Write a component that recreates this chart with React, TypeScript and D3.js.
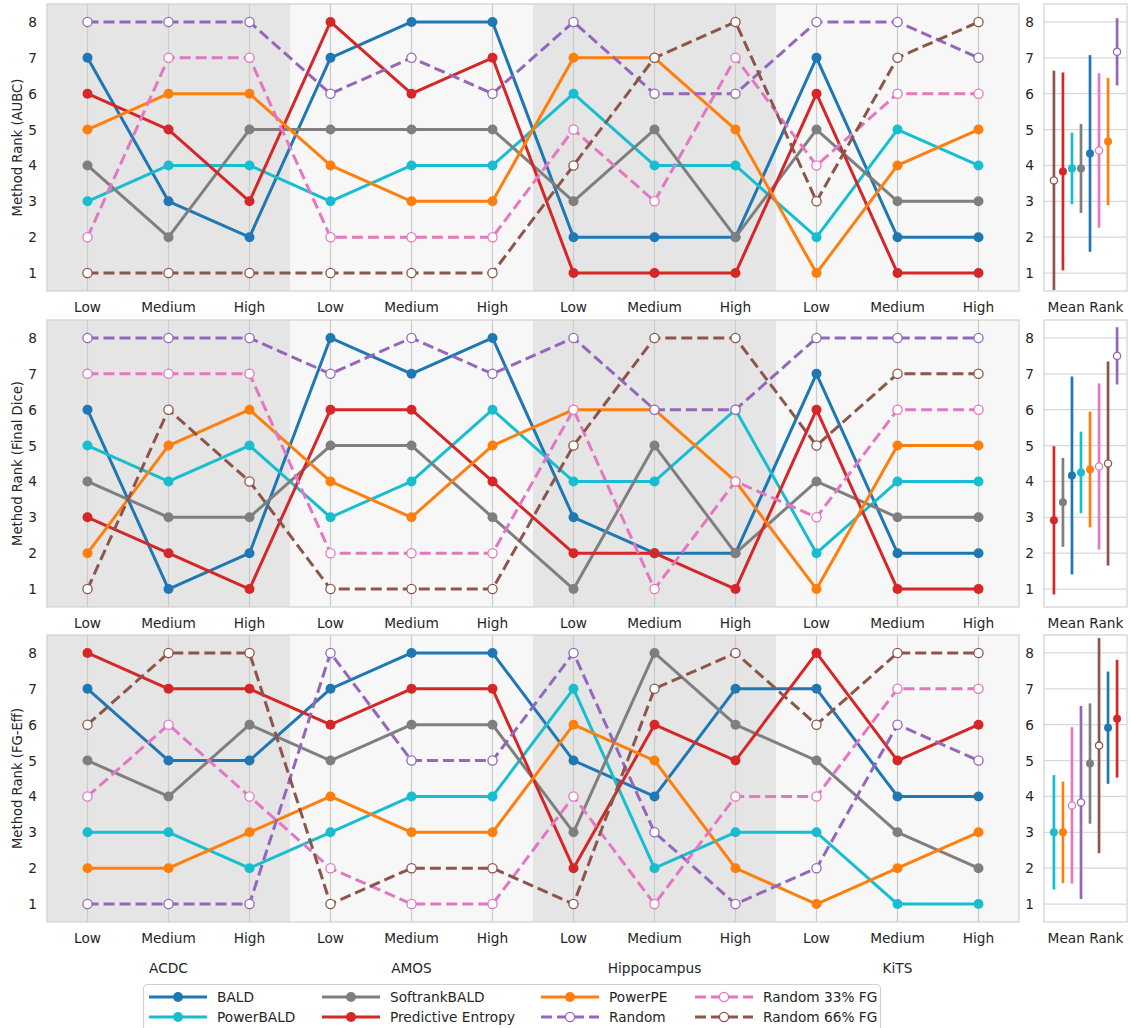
import React, { useEffect, useRef } from 'react';
import * as d3 from 'd3';

const levels = ['Low', 'Medium', 'High'];
const datasets = ['ACDC', 'AMOS', 'Hippocampus', 'KiTS'];
const methods = [
  'BALD',
  'PowerBALD',
  'SoftrankBALD',
  'Predictive Entropy',
  'PowerPE',
  'Random',
  'Random 33% FG',
  'Random 66% FG',
];
const colors = ['#1f77b4', '#17becf', '#7f7f7f', '#d62728', '#ff7f0e', '#9467bd', '#e377c2', '#8c564b'];
const isRandom = [false, false, false, false, false, true, true, true];
const metrics = ['AUBC', 'Final Dice', 'FG-Eff'];

// ranks per method (rows) over ACDC/AMOS/Hippocampus/KiTS x Low/Medium/High
const aubcRanks = [
  [7, 3, 2, 7, 8, 8, 2, 2, 2, 7, 2, 2],
  [3, 4, 4, 3, 4, 4, 6, 4, 4, 2, 5, 4],
  [4, 2, 5, 5, 5, 5, 3, 5, 2, 5, 3, 3],
  [6, 5, 3, 8, 6, 7, 1, 1, 1, 6, 1, 1],
  [5, 6, 6, 4, 3, 3, 7, 7, 5, 1, 4, 5],
  [8, 8, 8, 6, 7, 6, 8, 6, 6, 8, 8, 7],
  [2, 7, 7, 2, 2, 2, 5, 3, 7, 4, 6, 6],
  [1, 1, 1, 1, 1, 1, 4, 7, 8, 3, 7, 8],
];
const diceRanks = [
  [6, 1, 2, 8, 7, 8, 3, 2, 2, 7, 2, 2],
  [5, 4, 5, 3, 4, 6, 4, 4, 6, 2, 4, 4],
  [4, 3, 3, 5, 5, 3, 1, 5, 2, 4, 3, 3],
  [3, 2, 1, 6, 6, 4, 2, 2, 1, 6, 1, 1],
  [2, 5, 6, 4, 3, 5, 6, 6, 4, 1, 5, 5],
  [8, 8, 8, 7, 8, 7, 8, 6, 6, 8, 8, 8],
  [7, 7, 7, 2, 2, 2, 6, 1, 4, 3, 6, 6],
  [1, 6, 4, 1, 1, 1, 5, 8, 8, 5, 7, 7],
];
const fgEffRanks = [
  [7, 5, 5, 7, 8, 8, 5, 4, 7, 7, 4, 4],
  [3, 3, 2, 3, 4, 4, 7, 2, 3, 3, 1, 1],
  [5, 4, 6, 5, 6, 6, 3, 8, 6, 5, 3, 2],
  [8, 7, 7, 6, 7, 7, 2, 6, 5, 8, 5, 6],
  [2, 2, 3, 4, 3, 3, 6, 5, 2, 1, 2, 3],
  [1, 1, 1, 8, 5, 5, 8, 3, 1, 2, 6, 5],
  [4, 6, 4, 2, 1, 1, 4, 1, 4, 4, 7, 7],
  [6, 8, 8, 1, 2, 2, 1, 7, 8, 6, 8, 8],
];
const allRanks = [aubcRanks, diceRanks, fgEffRanks];
const rankTicks = [1, 2, 3, 4, 5, 6, 7, 8];

const W = 1131;
const H = 1028;
const FONT = 'DejaVu Sans';
const TEXT = '#262626';

const App: React.FC = () => {
  const svgRef = useRef<SVGSVGElement | null>(null);

  useEffect(() => {
    if (!svgRef.current) return;
    const svg = d3.select(svgRef.current);
    svg.selectAll('*').remove();

    const mainLeft = 47;
    const mainRight = 1019;
    const sideLeft = 1044;
    const sideRight = 1127;
    const rowH = 287;
    const rowTops = [4, 320, 635];

    const columns = datasets.flatMap((d) => levels.map((l) => `${d}-${l}`));
    const x = d3
      .scaleLinear()
      .domain([-0.5, columns.length - 0.5])
      .range([mainLeft, mainRight]);

    allRanks.forEach((ranks, r) => {
      const top = rowTops[r];
      const bottom = top + rowH;
      const y = d3.scaleLinear().domain([0.5, 8.5]).range([bottom, top]);
      const g = svg.append('g');

      // dataset bands
      datasets.forEach((d, i) => {
        g.append('rect')
          .attr('x', x(i * 3 - 0.5))
          .attr('y', top)
          .attr('width', x(i * 3 + 2.5) - x(i * 3 - 0.5))
          .attr('height', rowH)
          .attr('fill', i % 2 === 0 ? '#e5e5e5' : '#f7f7f7');
      });

      // vertical grid
      columns.forEach((_, i) => {
        g.append('line')
          .attr('x1', x(i))
          .attr('x2', x(i))
          .attr('y1', top)
          .attr('y2', bottom)
          .attr('stroke', '#cbcbcb')
          .attr('stroke-width', 1.2);
      });

      g.append('rect')
        .attr('x', mainLeft)
        .attr('y', top)
        .attr('width', mainRight - mainLeft)
        .attr('height', rowH)
        .attr('fill', 'none')
        .attr('stroke', '#d0d0d0')
        .attr('stroke-width', 1.2);

      const line = d3
        .line<number>()
        .x((_, i) => x(i))
        .y((d) => y(d));

      ranks.forEach((vals, k) => {
        g.append('path')
          .attr('d', line(vals) || '')
          .attr('fill', 'none')
          .attr('stroke', colors[k])
          .attr('stroke-width', 3)
          .attr('stroke-dasharray', isRandom[k] ? '11,5' : null)
          .attr('stroke-linejoin', 'round');
        g.selectAll(null)
          .data(vals)
          .enter()
          .append('circle')
          .attr('cx', (_, i) => x(i))
          .attr('cy', (d) => y(d))
          .attr('r', isRandom[k] ? 4.6 : 5)
          .attr('fill', isRandom[k] ? '#ffffff' : colors[k])
          .attr('stroke', colors[k])
          .attr('stroke-width', isRandom[k] ? 1.3 : 0);
      });

      // x tick labels
      columns.forEach((c, i) => {
        g.append('text')
          .attr('x', x(i))
          .attr('y', bottom + 16)
          .attr('text-anchor', 'middle')
          .attr('dominant-baseline', 'central')
          .attr('font-size', 13.7)
          .attr('fill', TEXT)
          .text(c.split('-')[1]);
      });

      // y tick labels
      rankTicks.forEach((t) => {
        g.append('text')
          .attr('x', mainLeft - 10)
          .attr('y', y(t))
          .attr('text-anchor', 'end')
          .attr('dominant-baseline', 'central')
          .attr('font-size', 13.7)
          .attr('fill', TEXT)
          .text(t);
      });

      g.append('text')
        .attr('transform', `translate(17,${(top + bottom) / 2}) rotate(-90)`)
        .attr('text-anchor', 'middle')
        .attr('dominant-baseline', 'central')
        .attr('font-size', 13.2)
        .attr('fill', TEXT)
        .text(`Method Rank (${metrics[r]})`);

      // side panel: mean rank +/- std
      const stats = ranks.map((vals, k) => ({
        k,
        name: methods[k],
        mean: d3.mean(vals) as number,
        sd: d3.deviation(vals) as number,
      }));
      const sorted = stats.slice().sort((a, b) => a.mean - b.mean);
      const xs = d3
        .scalePoint<string>()
        .domain(sorted.map((s) => s.name))
        .range([sideLeft, sideRight])
        .padding(1.1);

      const clipId = `side-clip-${r}`;
      svg
        .append('clipPath')
        .attr('id', clipId)
        .append('rect')
        .attr('x', sideLeft)
        .attr('y', top)
        .attr('width', sideRight - sideLeft)
        .attr('height', rowH);

      g.append('rect')
        .attr('x', sideLeft)
        .attr('y', top)
        .attr('width', sideRight - sideLeft)
        .attr('height', rowH)
        .attr('fill', '#ffffff');

      rankTicks.forEach((t) => {
        g.append('line')
          .attr('x1', sideLeft)
          .attr('x2', sideRight)
          .attr('y1', y(t))
          .attr('y2', y(t))
          .attr('stroke', '#d9d9d9')
          .attr('stroke-width', 1.2);
        g.append('text')
          .attr('x', sideLeft - 10)
          .attr('y', y(t))
          .attr('text-anchor', 'end')
          .attr('dominant-baseline', 'central')
          .attr('font-size', 13.7)
          .attr('fill', TEXT)
          .text(t);
      });

      const side = g.append('g').attr('clip-path', `url(#${clipId})`);
      sorted.forEach((s) => {
        const cx = xs(s.name) as number;
        side
          .append('line')
          .attr('x1', cx)
          .attr('x2', cx)
          .attr('y1', y(s.mean - s.sd))
          .attr('y2', y(s.mean + s.sd))
          .attr('stroke', colors[s.k])
          .attr('stroke-width', 2.7);
        side
          .append('circle')
          .attr('cx', cx)
          .attr('cy', y(s.mean))
          .attr('r', isRandom[s.k] ? 3.6 : 4)
          .attr('fill', isRandom[s.k] ? '#ffffff' : colors[s.k])
          .attr('stroke', colors[s.k])
          .attr('stroke-width', isRandom[s.k] ? 1.3 : 0);
      });

      g.append('rect')
        .attr('x', sideLeft)
        .attr('y', top)
        .attr('width', sideRight - sideLeft)
        .attr('height', rowH)
        .attr('fill', 'none')
        .attr('stroke', '#d0d0d0')
        .attr('stroke-width', 1.2);

      g.append('text')
        .attr('x', (sideLeft + sideRight) / 2)
        .attr('y', bottom + 16)
        .attr('text-anchor', 'middle')
        .attr('dominant-baseline', 'central')
        .attr('font-size', 13.7)
        .attr('fill', TEXT)
        .text('Mean Rank');
    });

    // dataset names under the last row
    datasets.forEach((d, i) => {
      svg
        .append('text')
        .attr('x', x(i * 3 + 1))
        .attr('y', 968)
        .attr('text-anchor', 'middle')
        .attr('dominant-baseline', 'central')
        .attr('font-size', 13.7)
        .attr('fill', TEXT)
        .text(d);
    });

    // legend
    const lg = svg.append('g');
    lg.append('rect')
      .attr('x', 143.5)
      .attr('y', 984.5)
      .attr('width', 737)
      .attr('height', 60)
      .attr('rx', 4)
      .attr('fill', '#ffffff')
      .attr('stroke', '#d0d0d0')
      .attr('stroke-width', 1.2);

    const colX = [149, 322, 541, 695];
    const rowY = [997, 1017];
    methods.forEach((m, k) => {
      const cx = colX[Math.floor(k / 2)];
      const cy = rowY[k % 2];
      lg.append('line')
        .attr('x1', cx)
        .attr('x2', cx + 58)
        .attr('y1', cy)
        .attr('y2', cy)
        .attr('stroke', colors[k])
        .attr('stroke-width', 3)
        .attr('stroke-dasharray', isRandom[k] ? '11,5' : null);
      lg.append('circle')
        .attr('cx', cx + 29)
        .attr('cy', cy)
        .attr('r', isRandom[k] ? 4.6 : 5)
        .attr('fill', isRandom[k] ? '#ffffff' : colors[k])
        .attr('stroke', colors[k])
        .attr('stroke-width', isRandom[k] ? 1.3 : 0);
      lg.append('text')
        .attr('x', cx + 68)
        .attr('y', cy)
        .attr('dominant-baseline', 'central')
        .attr('font-size', 13.7)
        .attr('fill', TEXT)
        .text(m);
    });
  }, []);

  return (
    <svg
      ref={svgRef}
      width={W}
      height={H}
      style={{ position: 'absolute', left: 0, top: 0, fontFamily: FONT, background: '#ffffff' }}
    />
  );
};

export default App;
